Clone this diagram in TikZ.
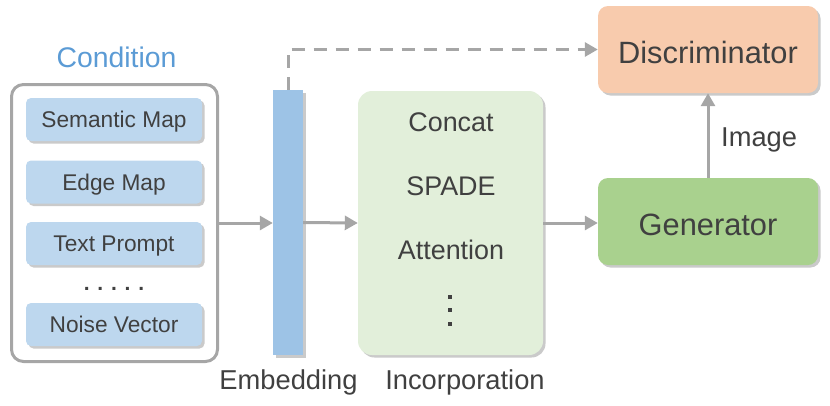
\documentclass[tikz,border=0pt]{standalone}
\usepackage{fontspec}
\setmainfont{Liberation Sans}
\usetikzlibrary{arrows.meta,shadows}
\definecolor{txt}{HTML}{404040}
\definecolor{lgray}{HTML}{A6A6A6}
\definecolor{condblue}{HTML}{5B9BD5}
\definecolor{itemblue}{HTML}{BDD7EE}
\definecolor{barblue}{HTML}{9DC3E6}
\definecolor{incgreen}{HTML}{E2EFDA}
\definecolor{gengreen}{HTML}{A9D18E}
\definecolor{discorange}{HTML}{F8CBAD}
\tikzset{
  shad/.style={drop shadow={shadow xshift=2.5pt,shadow yshift=-2.5pt,opacity=0.35,fill=black!60}},
  item/.style={shad,fill=itemblue,rounded corners=5pt,minimum width=176pt,minimum height=43pt,inner sep=0pt,text depth=0pt,text=txt,font=\fontsize{22.7}{26}\selectfont},
  bigbox/.style={shad,rounded corners=10pt,minimum width=220pt,minimum height=87pt,inner sep=0pt,text height=28pt,text depth=0pt,text=txt,font=\fontsize{30.8}{34}\selectfont},
  lbl/.style={text=txt,inner sep=0pt,font=\fontsize{27.3}{30}\selectfont},
  inc/.style={text=txt,inner sep=0pt,text depth=0pt,font=\fontsize{26.9}{30}\selectfont},
  arr/.style={draw=lgray,line width=3pt,-{Triangle[length=13pt,width=14pt]}},
  dasharr/.style={draw=lgray,line width=3pt,dash pattern=on 13pt off 9pt,-{Triangle[length=13pt,width=14pt]}},
}
\begin{document}
\begin{tikzpicture}[x=1pt,y=-1pt]
\useasboundingbox (0,0) rectangle (830,405);
% condition
\node[text=condblue,inner sep=0pt,text depth=0pt,font=\fontsize{28.4}{32}\selectfont] (condlbl) at (116.5,57.5) {Condition};
\node[draw=lgray,line width=3pt,rounded corners=12pt,minimum width=206pt,minimum height=277pt,inner sep=0pt] (cond) at (114.5,223) {};
\node[item] (sem) at (114,119.5) {Semantic Map};
\node[item] (edge) at (114,182) {Edge Map};
\node[item] (text) at (114,243.5) {Text Prompt};
\node[text=txt,inner sep=0pt,font=\fontsize{21}{22}\selectfont\bfseries,anchor=base] (dots) at (114,290) {. . . . .};
\node[item] (noise) at (114,324.5) {Noise Vector};
% embedding
\node[shad,fill=barblue,minimum width=30pt,minimum height=265pt,inner sep=0pt] (emb) at (288,222.5) {};
\node[lbl,anchor=base] (emblbl) at (288.5,389) {Embedding};
% incorporation
\node[shad,fill=incgreen,rounded corners=14pt,minimum width=185pt,minimum height=264pt,inner sep=0pt] (incbox) at (450.5,223) {};
\node[inc] (concat) at (451,122.5) {Concat};
\node[inc] (spade) at (451,186.5) {SPADE};
\node[inc] (att) at (451,250) {Attention};
\fill[txt] (448,295) rectangle ++(4,4);
\fill[txt] (448,308) rectangle ++(4,4);
\fill[txt] (448,321.5) rectangle ++(4,4);
\node[lbl,anchor=base] (inclbl) at (465,389) {Incorporation};
% generator / discriminator
\node[bigbox,fill=gengreen] (gen) at (708,221.5) {Generator};
\node[bigbox,fill=discorange] (disc) at (708,49.5) {Discriminator};
\node[lbl,anchor=west,text depth=0pt] (img) at (721,137.5) {Image};
% connectors
\draw[arr] (cond.east) -- (emb.west |- cond.east);
\draw[arr] (emb.east) -- (incbox.west);
\draw[arr] (incbox.east) -- (gen.west |- incbox.east);
\draw[arr] (gen.north) -- (disc.south);
\draw[dasharr] (emb.north) |- (disc.west);
\end{tikzpicture}
\end{document}
